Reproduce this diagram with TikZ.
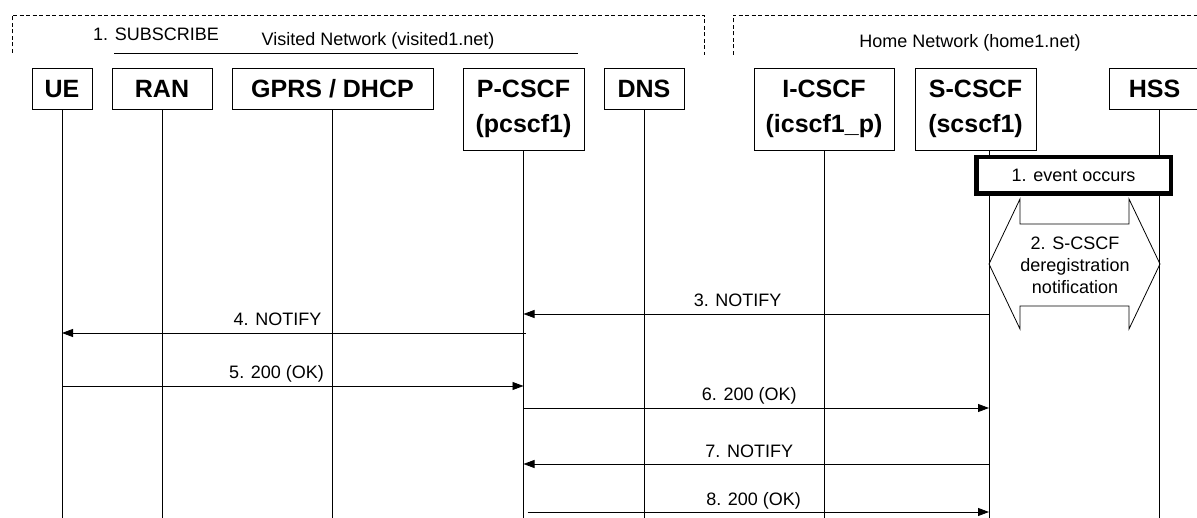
\documentclass[tikz,border=0pt]{standalone}
\usepackage{fontspec}
\setmainfont{Liberation Sans}
\usepackage{tikz}
\usetikzlibrary{arrows.meta}
\tikzset{
  entity/.style={draw, anchor=north, minimum height=41.5, inner sep=0pt, align=center, font=\fontsize{25}{35}\selectfont\bfseries},
  tallentity/.style={entity, minimum height=82},
  lifeline/.style={line width=0.8pt},
  msg/.style={line width=0.8pt, -{Triangle[length=11pt,width=8pt]}},
  msglabel/.style={anchor=base, yshift=7pt, inner sep=0pt, font=\fontsize{18}{22}\selectfont},
  netframe/.style={line width=0.6pt, dash pattern=on 4pt off 2.5pt},
  plaintext/.style={inner sep=0pt, font=\fontsize{18}{22}\selectfont},
  eventbox/.style={draw, line width=3pt, fill=white, minimum width=193, minimum height=35, inner sep=0pt, font=\fontsize{18}{22}\selectfont},
}

\begin{document}
\begin{tikzpicture}[x=1pt,y=-1pt]
      \useasboundingbox (0,0) rectangle (1197,518);

      %NETWORK FRAMES
      \draw[netframe] (12,53) -- (12,15) -- (704,15) -- (704,55); %visited network
      \draw[netframe] (733,55) -- (733,15) -- (1200,15); %home network
      \node[plaintext] (subscribe) at (156,34) {1. SUBSCRIBE};
      \node[plaintext] (visited) at (378,41) {Visited Network (visited1.net)};
      \node[plaintext] (home) at (970,43) {Home Network (home1.net)};
      \draw[line width=0.8pt] (114,53) -- (578,53); %line under visited label

      %ENTITIES
      \node[entity, minimum width=60] (ue) at (62,68) {UE};
      \node[entity, minimum width=100] (ran) at (162,68) {RAN};
      \node[entity, minimum width=201] (gprs) at (332.5,68) {GPRS / DHCP};
      \node[tallentity, minimum width=121] (pcscf) at (523.5,68) {P-CSCF\\(pcscf1)};
      \node[entity, minimum width=80] (dns) at (644,68) {DNS};
      \node[tallentity, minimum width=140] (icscf) at (824,68) {I-CSCF\\(icscf1\_p)};
      \node[tallentity, minimum width=121] (scscf) at (975.5,68) {S-CSCF\\(scscf1)};
      \node[entity, minimum width=91] (hss) at (1154.5,68) {HSS};

      %LIFELINES
      \draw[lifeline] (ue) -- (ue |- 0,518);
      \draw[lifeline] (ran) -- (ran |- 0,518);
      \draw[lifeline] (gprs) -- (gprs |- 0,518);
      \draw[lifeline] (pcscf) -- (pcscf |- 0,518);
      \draw[lifeline] (dns) -- (dns |- 0,518);
      \draw[lifeline] (icscf) -- (icscf |- 0,518);
      \coordinate (scscfline) at (989,518);
      \coordinate (hssline) at (1159,518);
      \draw[lifeline] (scscf.south -| scscfline) -- (scscfline);
      \draw[lifeline] (hss.south -| hssline) -- (hssline);

      %STEP 1 AND 2
      \node[eventbox] (event) at (1073.5,175.5) {1. event occurs};
      \draw[line width=3pt] (event.north west) rectangle (event.south east); %thick frame
      \draw[line width=0.8pt] (1020,224) -- (1020,199) -- (989,264) -- (1020,329) -- (1020,306)
            -- (1129,306) -- (1129,329) -- (1160,264) -- (1129,199) -- (1129,224) -- cycle; %double arrow
      \node[plaintext, align=center, font=\fontsize{18}{22}\selectfont] (dereg) at (1075,265)
            {2. S-CSCF\\deregistration\\notification};

      %MESSAGES
      \draw[msg] (scscfline |- 0,314) -- node[msglabel, pos=0.54] (notify3) {3. NOTIFY} (pcscf |- 0,314);
      \draw[msg] ([xshift=2pt]pcscf |- 0,333) -- node[msglabel, pos=0.535] (notify4) {4. NOTIFY} (ue |- 0,333);
      \draw[msg] (ue |- 0,386) -- node[msglabel, pos=0.465] (ok5) {5. 200 (OK)} (pcscf |- 0,386);
      \draw[msg] (pcscf |- 0,408) -- node[msglabel, pos=0.485] (ok6) {6. 200 (OK)} (scscfline |- 0,408);
      \draw[msg] (scscfline |- 0,464) -- node[msglabel, pos=0.515] (notify7) {7. NOTIFY} (pcscf |- 0,464);
      \draw[msg] ([xshift=4pt]pcscf |- 0,512) -- node[msglabel, pos=0.49] (ok8) {8. 200 (OK)} (scscfline |- 0,512);
\end{tikzpicture}
\end{document}
